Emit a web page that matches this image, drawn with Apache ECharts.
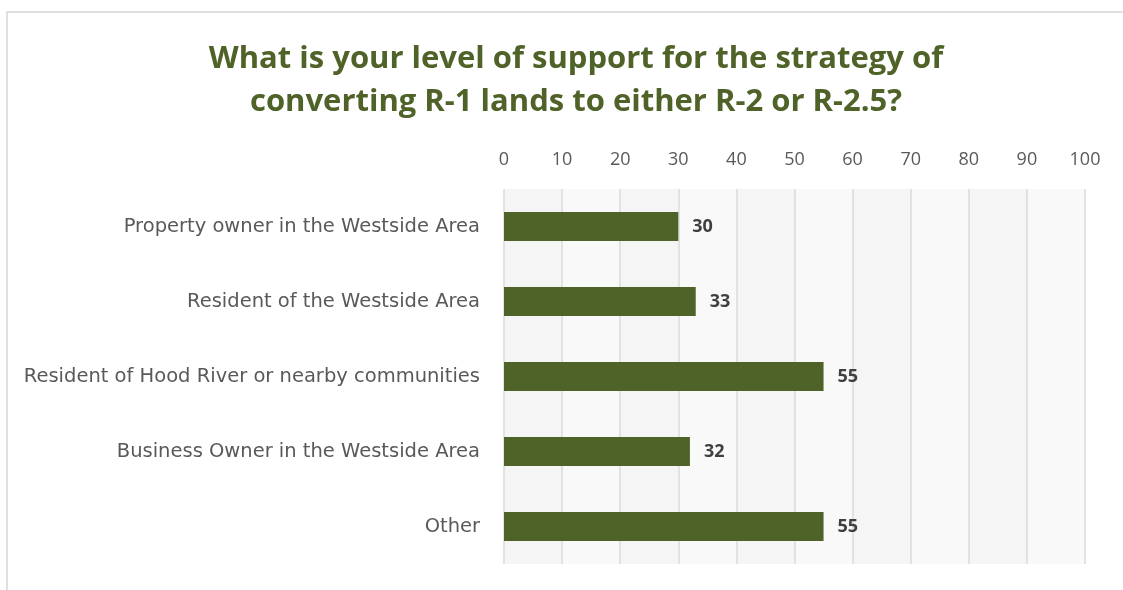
<!DOCTYPE html>
<html>
<head>
<meta charset="utf-8">
<script src="https://cdn.jsdelivr.net/npm/echarts@6/dist/echarts.min.js"></script>
<style>
  html, body { margin: 0; padding: 0; background: #ffffff; }
  #chart { width: 1123px; height: 590px; }
</style>
</head>
<body>
<div id="chart"></div>
<script>
// Survey respondents and their support counts
const categories = [
  'Property owner in the Westside Area',
  'Resident of the Westside Area',
  'Resident of Hood River or nearby communities',
  'Business Owner in the Westside Area',
  'Other'
];
const supportValues = [30, 33, 55, 32, 55];
const titleLines = [
  'What is your level of support for the strategy of',
  'converting R-1 lands to either R-2 or R-2.5?'
];

const chart = echarts.init(document.getElementById('chart'));
const baseFont = 'Open Sans, sans-serif';

chart.setOption({
  backgroundColor: '#ffffff',
  animation: false,
  graphic: [{
    type: 'rect',
    shape: { x: 7, y: 12, width: 1130, height: 600 },
    style: { fill: 'none', stroke: '#d6d6d6', lineWidth: 1.5 },
    z: 0
  }],
  title: {
    text: titleLines.join('\n'),
    left: 571,
    textAlign: 'center',
    top: 33,
    textStyle: {
      fontFamily: baseFont,
      fontSize: 31,
      fontWeight: 'bold',
      color: '#4f6228',
      lineHeight: 43
    }
  },
  grid: { left: 504, right: 38, top: 189, bottom: 26, containLabel: false },
  xAxis: {
    type: 'value',
    position: 'top',
    min: 0,
    max: 100,
    interval: 10,
    axisLine: { show: false },
    axisTick: { show: false },
    axisLabel: { color: '#595959', fontSize: 18, fontFamily: baseFont, margin: 20 },
    splitLine: { lineStyle: { color: '#dadada', width: 1.5 } },
    splitArea: { show: true, areaStyle: { color: ['#f5f5f5', '#f9f9f9'] } }
  },
  yAxis: {
    type: 'category',
    inverse: true,
    data: categories,
    axisLine: { show: false },
    axisTick: { show: false },
    axisLabel: { color: '#595959', fontSize: 19.5, fontFamily: 'DejaVu Sans, sans-serif', margin: 24 }
  },
  series: [{
    type: 'bar',
    data: supportValues,
    barWidth: 29,
    itemStyle: { color: '#4f6228' },
    label: {
      show: true,
      position: 'right',
      distance: 14,
      color: '#404040',
      fontSize: 18,
      fontWeight: 'bold',
      fontFamily: baseFont
    }
  }]
});
</script>
</body>
</html>
